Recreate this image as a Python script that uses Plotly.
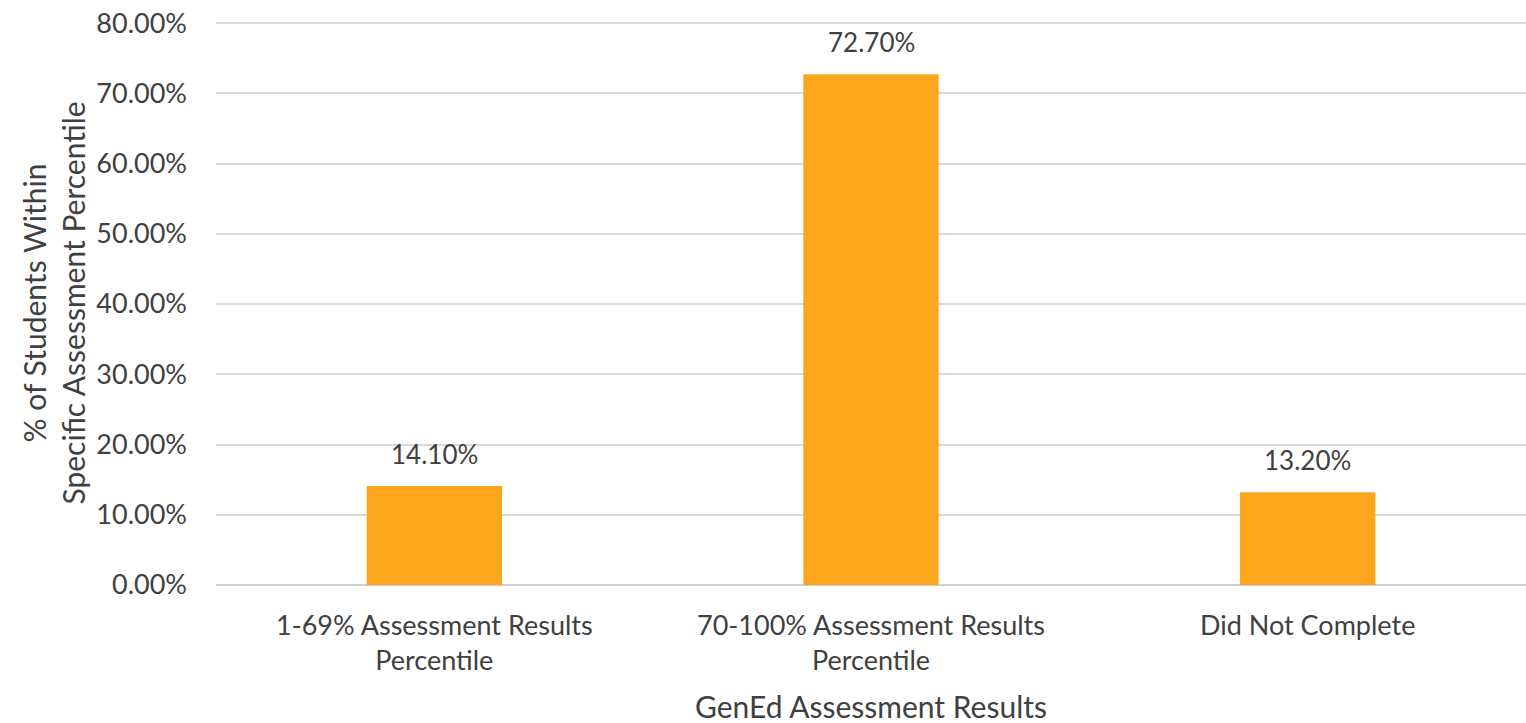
import plotly.graph_objects as go

categories = ["1-69% Assessment Results<br>Percentile",
              "70-100% Assessment Results<br>Percentile",
              "Did Not Complete"]
values = [0.141, 0.727, 0.132]
labels = ["14.10%", "72.70%", "13.20%"]
y_ticks = [0, 0.1, 0.2, 0.3, 0.4, 0.5, 0.6, 0.7, 0.8]

FONT = "Lato"
TXT = "#404040"
W, H = 1526, 723
L, R, T, B = 216, 0, 22, 138

fig = go.Figure(go.Bar(
    x=categories, y=values,
    marker=dict(color="#FBA61C", line=dict(width=0)),
))

for c, v, t in zip(categories, values, labels):
    fig.add_annotation(x=c, y=v, text=t, showarrow=False, yanchor="bottom",
                       yshift=14, font=dict(family=FONT, size=26, color=TXT))

fig.add_annotation(xref="paper", yref="paper",
                   x=(53 - L) / (W - L - R), y=0.5, textangle=-90,
                   xanchor="center", yanchor="middle", showarrow=False,
                   text="% of Students Within<br>Specific Assessment Percentile",
                   font=dict(family=FONT, size=30, color=TXT))
fig.add_annotation(xref="paper", yref="paper",
                   x=0.5, y=-(706 - (H - B)) / (H - T - B),
                   xanchor="center", yanchor="middle", showarrow=False,
                   text="GenEd Assessment Results",
                   font=dict(family=FONT, size=30, color=TXT))

fig.update_layout(
    width=W, height=H,
    margin=dict(l=L, r=R, t=T, b=B, autoexpand=False),
    plot_bgcolor="white", paper_bgcolor="white",
    bargap=0.69,
    showlegend=False,
    font=dict(family=FONT, size=27, color=TXT),
)
fig.update_yaxes(
    range=[0, 0.8015], tickvals=y_ticks, tickformat=".2%",
    showgrid=True, gridcolor="#d9d9d9", gridwidth=1.5,
    zeroline=True, zerolinecolor="#d0d0d0", zerolinewidth=1.5,
    ticks="", ticklabelstandoff=28, automargin=False,
    ticklabeloverflow="allow",
    tickfont=dict(family=FONT, size=27, color=TXT),
)
fig.update_xaxes(
    showgrid=False, ticks="", showline=False, automargin=False,
    ticklabelstandoff=22,
    tickfont=dict(family=FONT, size=27, color=TXT),
)

fig.write_html("out.html", config={"displayModeBar": False},
               post_script="document.body.style.margin='0px';document.body.style.overflow='hidden';")
